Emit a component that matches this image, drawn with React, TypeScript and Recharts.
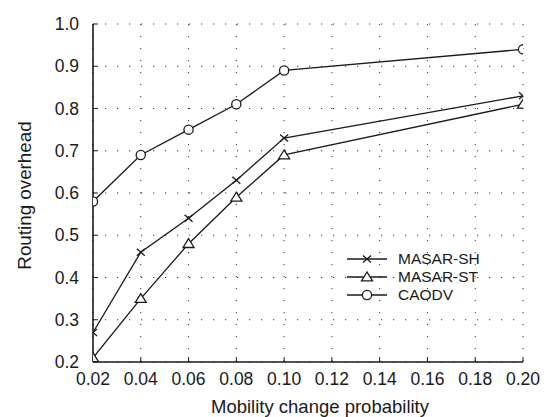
import React from "react";
import { LineChart, Line, XAxis, YAxis, CartesianGrid, Label } from "recharts";

const xValues = [0.02, 0.04, 0.06, 0.08, 0.1, 0.2];
const masarSH = [0.27, 0.46, 0.54, 0.63, 0.73, 0.83];
const masarST = [0.21, 0.35, 0.48, 0.59, 0.69, 0.81];
const caodv = [0.58, 0.69, 0.75, 0.81, 0.89, 0.94];
const xTicks = [0.02, 0.04, 0.06, 0.08, 0.1, 0.12, 0.14, 0.16, 0.18, 0.2];
const yTicks = [0.2, 0.3, 0.4, 0.5, 0.6, 0.7, 0.8, 0.9, 1.0];
const seriesNames = ["MASAR-SH", "MASAR-ST", "CAODV"];

const data = xValues.map((x, i) => ({ x, sh: masarSH[i], st: masarST[i], ca: caodv[i] }));

const FONT = "'Liberation Sans', Arial, sans-serif";
const INK = "#1a1a1a";

const CrossMark = ({ cx, cy }: { cx: number; cy: number }) => (
  <g stroke={INK} strokeWidth={1.3}>
    <line x1={cx - 4} y1={cy - 3.5} x2={cx + 4} y2={cy + 3.5} />
    <line x1={cx - 4} y1={cy + 3.5} x2={cx + 4} y2={cy - 3.5} />
  </g>
);
const TriMark = ({ cx, cy }: { cx: number; cy: number }) => (
  <polygon
    points={`${cx},${cy - 5} ${cx - 5.5},${cy + 3.8} ${cx + 5.5},${cy + 3.8}`}
    fill="#fff"
    stroke={INK}
    strokeWidth={1.3}
  />
);
const CircMark = ({ cx, cy }: { cx: number; cy: number }) => (
  <circle cx={cx} cy={cy} r={4.6} fill="#fff" stroke={INK} strokeWidth={1.3} />
);

const markers = [CrossMark, TriMark, CircMark];

const mkDot = (M: any) => (props: any) => {
  const { cx, cy, index } = props;
  return <M key={`d-${index}`} cx={cx} cy={cy} />;
};

const LegendBox = () => (
  <div
    style={{
      position: "absolute",
      left: 339,
      top: 242,
      fontFamily: FONT,
      fontSize: 15.5,
      color: INK,
    }}
  >
    {seriesNames.map((name, i) => {
      const M = markers[i];
      return (
        <div key={name} style={{ display: "flex", alignItems: "center", height: 18 }}>
          <svg width={48} height={18} style={{ display: "block" }}>
            <line x1={0} y1={9} x2={40} y2={9} stroke={INK} strokeWidth={1.3} />
            <M cx={20} cy={9} />
          </svg>
          <span style={{ lineHeight: "18px", marginLeft: 3 }}>{name}</span>
        </div>
      );
    })}
  </div>
);

export default function App() {
  return (
    <div style={{ position: "relative", width: 540, height: 409 }}>
      <LineChart
        width={540}
        height={409}
        data={data}
        margin={{ top: 16, right: 25, bottom: 5, left: 5 }}
      >
        <CartesianGrid stroke="#333" strokeDasharray="1.2 10.8" strokeWidth={1} />
        <XAxis
          dataKey="x"
          type="number"
          domain={[0.02, 0.2]}
          ticks={xTicks}
          allowDataOverflow
          height={50}
          tickFormatter={(v: number) => v.toFixed(2)}
          tickSize={-5}
          tickMargin={16}
          axisLine={{ stroke: INK, strokeWidth: 1.6 }}
          tickLine={{ stroke: INK, strokeWidth: 1 }}
          tick={{ fill: INK, fontSize: 17.5, fontFamily: FONT }}
          interval={0}
        >
          <Label
            content={() => (
              <text x={312} y={405} textAnchor="middle" fontFamily={FONT} fontSize={18.5} fill={INK}>
                Mobility change probability
              </text>
            )}
          />
        </XAxis>
        <XAxis
          xAxisId="top"
          orientation="top"
          dataKey="x"
          type="number"
          domain={[0.02, 0.2]}
          ticks={xTicks}
          allowDataOverflow
          height={0}
          tick={false}
          tickSize={-5}
          axisLine={{ stroke: INK, strokeWidth: 1.6 }}
          tickLine={{ stroke: INK, strokeWidth: 1 }}
          interval={0}
        />
        <YAxis
          type="number"
          domain={[0.2, 1.0]}
          ticks={yTicks}
          allowDataOverflow
          width={80}
          tickFormatter={(v: number) => v.toFixed(1)}
          tickSize={-5}
          tickMargin={19}
          axisLine={{ stroke: INK, strokeWidth: 1.6 }}
          tickLine={{ stroke: INK, strokeWidth: 1 }}
          tick={{ fill: INK, fontSize: 17.5, fontFamily: FONT }}
          interval={0}
        >
          <Label
            content={() => (
              <text
                x={16}
                y={187.5}
                textAnchor="middle"
                dominantBaseline="central"
                transform="rotate(-90 16 187.5)"
                fontFamily={FONT}
                fontSize={18.8}
                fill={INK}
              >
                Routing overhead
              </text>
            )}
          />
        </YAxis>
        <YAxis
          yAxisId="right"
          orientation="right"
          type="number"
          domain={[0.2, 1.0]}
          ticks={yTicks}
          allowDataOverflow
          width={0}
          tick={false}
          tickSize={-5}
          axisLine={{ stroke: INK, strokeWidth: 1.6 }}
          tickLine={{ stroke: INK, strokeWidth: 1 }}
          interval={0}
        />
        <Line
          dataKey="sh"
          name="MASAR-SH"
          stroke={INK}
          strokeWidth={1.3}
          dot={mkDot(CrossMark)}
          isAnimationActive={false}
        />
        <Line
          dataKey="st"
          name="MASAR-ST"
          stroke={INK}
          strokeWidth={1.3}
          dot={mkDot(TriMark)}
          isAnimationActive={false}
        />
        <Line
          dataKey="ca"
          name="CAODV"
          stroke={INK}
          strokeWidth={1.3}
          dot={mkDot(CircMark)}
          isAnimationActive={false}
        />
      </LineChart>
      <LegendBox />
    </div>
  );
}
